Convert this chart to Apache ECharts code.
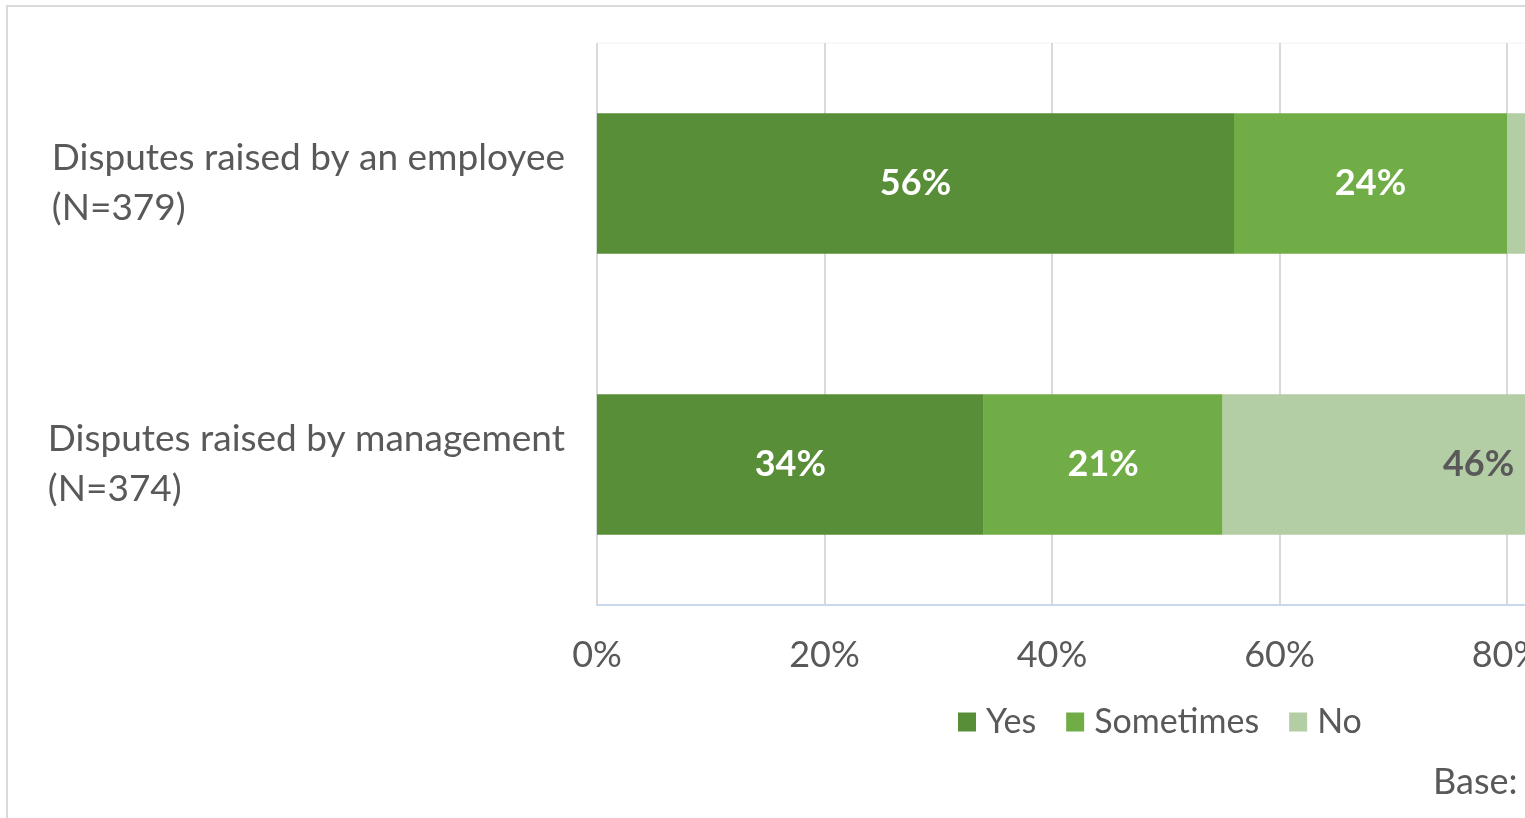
<!DOCTYPE html>
<html>
<head>
<meta charset="utf-8">
<script src="https://cdn.jsdelivr.net/npm/echarts@6/dist/echarts.min.js"></script>
<style>
  html, body { margin: 0; padding: 0; background: #fff; overflow: hidden; width: 1525px; height: 818px; }
  #chart { position: absolute; left: 0; top: 0; width: 2318px; height: 900px; }
</style>
</head>
<body>
<div id="chart"></div>
<script>
// Survey answers per dispute type (percent of respondents)
const categories = [
  'Disputes raised by an employee\n(N=379)',
  'Disputes raised by management\n(N=374)'
];
const seriesNames = ['Yes', 'Sometimes', 'No'];
const yesValues = [56, 34];
const sometimesValues = [24, 21];
const noValues = [20, 46];
const xTicks = [0, 20, 40, 60, 80, 100];

const colors = ['#598e38', '#70ad47', '#b3cda5'];
const labelColors = ['#ffffff', '#ffffff', '#595959'];
const FONT = 'Lato, "Open Sans", sans-serif';

const chart = echarts.init(document.getElementById('chart'), null, { renderer: 'canvas' });

const valueSets = [yesValues, sometimesValues, noValues];

const option = {
  animation: false,
  textStyle: { fontFamily: FONT },
  graphic: [
    {
      type: 'rect',
      shape: { x: 7, y: 6, width: 2300, height: 1000 },
      style: { fill: 'none', stroke: '#d9d9d9', lineWidth: 2 },
      silent: true
    },
    {
      type: 'text',
      left: 1433,
      top: 764,
      style: { text: 'Base:', fontFamily: FONT, fontSize: 36, fill: '#595959' }
    }
  ],
  legend: {
    data: seriesNames,
    left: 958,
    top: 705,
    padding: 0,
    icon: 'rect',
    itemWidth: 18,
    itemHeight: 19,
    itemGap: 30,
    textStyle: { fontFamily: FONT, fontSize: 34, color: '#595959', padding: [0, 0, 0, 5] }
  },
  grid: {
    left: 597,
    top: 43,
    width: 1137.5,
    height: 562,
    show: true,
    borderColor: '#f0f2f8',
    borderWidth: 1,
    containLabel: false
  },
  xAxis: {
    type: 'value',
    min: xTicks[0],
    max: xTicks[xTicks.length - 1],
    interval: xTicks[1] - xTicks[0],
    axisLine: { show: true, lineStyle: { color: '#c9d7ee', width: 2 } },
    axisTick: { show: false },
    splitLine: { show: true, lineStyle: { color: '#d9d9d9', width: 2 } },
    axisLabel: {
      formatter: '{value}%',
      fontFamily: FONT,
      fontSize: 36,
      color: '#595959',
      margin: 32
    }
  },
  yAxis: {
    type: 'category',
    data: categories,
    inverse: true,
    axisLine: { show: false },
    axisTick: { show: false },
    axisLabel: {
      margin: 32,
      align: 'right',
      color: '#595959',
      formatter: function (v) {
        return v.split('\n').map(function (s) { return '{t|' + s + '}'; }).join('\n');
      },
      rich: {
        t: { align: 'left', fontFamily: FONT, fontSize: 37, lineHeight: 50, color: '#595959' }
      }
    }
  },
  series: seriesNames.map(function (name, i) {
    return {
      name: name,
      type: 'bar',
      stack: 'total',
      barCategoryGap: '50%',
      data: valueSets[i],
      itemStyle: { color: colors[i] },
      label: {
        show: true,
        position: 'inside',
        formatter: '{c}%',
        fontFamily: FONT,
        fontSize: 36,
        fontWeight: 'bold',
        color: labelColors[i]
      }
    };
  })
};

chart.setOption(option);
</script>
</body>
</html>
